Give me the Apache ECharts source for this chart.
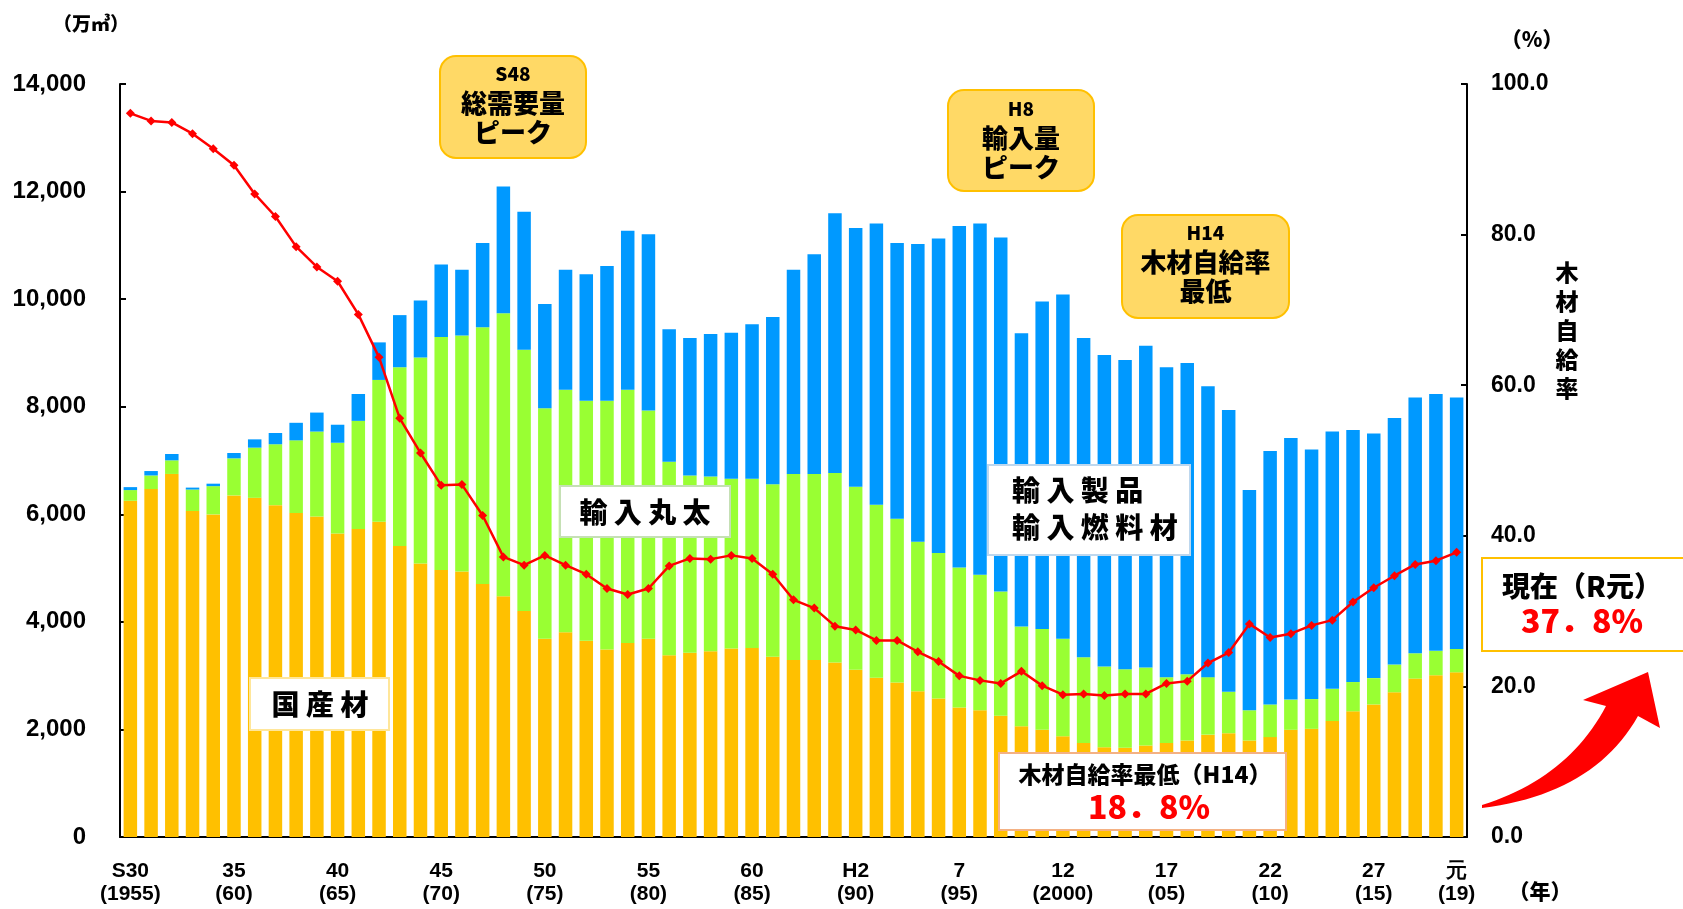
<!DOCTYPE html>
<html>
<head>
<meta charset="utf-8">
<script src="https://cdn.jsdelivr.net/npm/echarts@6/dist/echarts.min.js"></script>
<style>
  html, body { margin: 0; padding: 0; background: #fff; }
  #chart { width: 1683px; height: 909px; }
</style>
</head>
<body>
<div id="chart"></div>
<script>
'use strict';

// 年 (暦年)
const years = [
    1955, 1956, 1957, 1958, 1959, 1960, 1961, 1962, 1963, 1964,
    1965, 1966, 1967, 1968, 1969, 1970, 1971, 1972, 1973, 1974,
    1975, 1976, 1977, 1978, 1979, 1980, 1981, 1982, 1983, 1984,
    1985, 1986, 1987, 1988, 1989, 1990, 1991, 1992, 1993, 1994,
    1995, 1996, 1997, 1998, 1999, 2000, 2001, 2002, 2003, 2004,
    2005, 2006, 2007, 2008, 2009, 2010, 2011, 2012, 2013, 2014,
    2015, 2016, 2017, 2018, 2019
];

// 国産材 (万㎥)
const domestic = [
    6251, 6469, 6750, 6061, 5998, 6351, 6306, 6170, 6025, 5961,
    5644, 5726, 5862, 5409, 5083, 4965, 4938, 4702, 4476, 4204,
    3687, 3805, 3651, 3488, 3606, 3687, 3379, 3425, 3452, 3506,
    3515, 3352, 3289, 3289, 3243, 3108, 2963, 2872, 2709, 2573,
    2410, 2356, 2256, 2057, 1993, 1875, 1749, 1667, 1658, 1703,
    1749, 1794, 1903, 1930, 1794, 1857, 1993, 2011, 2156, 2337,
    2464, 2691, 2945, 3008, 3062
];

// 輸入丸太 (万㎥)
const importLogs = [
    199, 253, 253, 399, 525, 689, 933, 1132, 1350, 1577,
    1686, 2011, 2636, 3325, 3832, 4331, 4385, 4775, 5264, 4856,
    4286, 4512, 4458, 4621, 4711, 4241, 3597, 3298, 3252, 3153,
    3144, 3207, 3461, 3461, 3525, 3406, 3216, 3044, 2781, 2709,
    2600, 2518, 2310, 1857, 1876, 1812, 1594, 1504, 1459, 1450,
    1223, 1232, 1069, 770, 562, 607, 562, 553, 598, 544,
    490, 516, 471, 453, 435
];

// 輸入製品・輸入燃料材 (万㎥)
const importProducts = [
    55, 82, 118, 36, 46, 99, 154, 209, 326, 353,
    335, 499, 698, 969, 1060, 1350, 1223, 1567, 2355, 2564,
    1939, 2229, 2355, 2509, 2954, 3279, 2465, 2554, 2646, 2718,
    2872, 3108, 3796, 4086, 4829, 4811, 5228, 5128, 5536, 5844,
    6351, 6533, 6578, 5454, 6088, 6397, 5934, 5789, 5753, 5979,
    5762, 5789, 5409, 5237, 4095, 4712, 4865, 4639, 4784, 4684,
    4548, 4585, 4756, 4775, 4675
];

// 木材自給率 (%)
const selfSufficiency = [
    96.1, 95.1, 94.9, 93.4, 91.4, 89.2, 85.4, 82.4, 78.4, 75.7,
    73.8, 69.4, 63.7, 55.6, 51.0, 46.7, 46.8, 42.7, 37.2, 36.1,
    37.4, 36.1, 34.9, 33.0, 32.2, 33.0, 36.0, 37.0, 36.9, 37.4,
    37.0, 34.9, 31.5, 30.4, 28.0, 27.5, 26.1, 26.1, 24.6, 23.3,
    21.4, 20.8, 20.4, 22.0, 20.1, 18.9, 19.0, 18.8, 19.0, 19.0,
    20.4, 20.7, 23.1, 24.5, 28.3, 26.5, 27.0, 28.1, 28.8, 31.2,
    33.1, 34.7, 36.2, 36.7, 37.8
];

// x軸に表示する年とラベル
const tickYears  = [1955, 1960, 1965, 1970, 1975, 1980, 1985, 1990, 1995, 2000, 2005, 2010, 2015, 2019];
const tickLabels = ['S30\n(1955)', '35\n(60)', '40\n(65)', '45\n(70)', '50\n(75)', '55\n(80)', '60\n(85)',
                    'H2\n(90)', '7\n(95)', '12\n(2000)', '17\n(05)', '22\n(10)', '27\n(15)', '元\n(19)'];

const JP   = '"Noto Sans CJK JP", sans-serif';
const NUM  = '"Liberation Sans", Arial, sans-serif';
const TOP  = 100;   // 注記は棒・折れ線より手前に描く

function withComma(v) {
    return String(v).replace(/\B(?=(\d{3})+(?!\d))/g, ',');
}

// 角丸の黄色い注記
function yellowNote(x, y, w, h, lines) {
    const els = [{
        type: 'rect', z: TOP,
        shape: {x: x, y: y, width: w, height: h, r: 16},
        style: {fill: '#FFD966', stroke: '#FFC000', lineWidth: 2}
    }];
    lines.forEach(l => els.push({
        type: 'text', z: TOP + 1,
        x: x + w / 2, y: l.y,
        style: {text: l.text, font: `900 ${l.size}px ${JP}`, fill: '#000', align: 'center', verticalAlign: 'middle'}
    }));
    return els;
}

// 白地の系列名ラベル
function whiteLabel(x, y, w, h, stroke, lines) {
    const els = [{
        type: 'rect', z: TOP,
        shape: {x: x, y: y, width: w, height: h},
        style: {fill: '#fff', stroke: stroke, lineWidth: 2}
    }];
    lines.forEach(l => els.push({
        type: 'text', z: TOP + 1,
        x: l.x, y: l.y,
        style: {text: l.text, font: `900 ${l.size}px ${JP}`, fill: l.color || '#000',
                align: l.align || 'center', verticalAlign: 'middle'}
    }));
    return els;
}

// 二次ベジェ曲線を折れ線に展開 (矢印の輪郭用)
function quad(p0, p1, p2, n) {
    const pts = [];
    for (let i = 0; i <= n; i++) {
        const t = i / n, u = 1 - t;
        pts.push([u * u * p0[0] + 2 * u * t * p1[0] + t * t * p2[0],
                  u * u * p0[1] + 2 * u * t * p1[1] + t * t * p2[1]]);
    }
    return pts;
}

function arrowPoints() {
    const outer = quad([1482, 808], [1594, 794], [1638, 716], 24);
    const inner = quad([1606, 706], [1568, 778], [1482, 805], 24);
    return outer.concat([[1660, 728], [1648, 672], [1583, 700]], inner);
}

function buildOption() {
    const graphic = [
        {type: 'text', x: 91, y: 24, z: TOP,
         style: {text: '（万㎥）', font: `900 19px ${JP}`, fill: '#000', align: 'center', verticalAlign: 'middle'}},
        {type: 'text', x: 1532, y: 39, z: TOP,
         style: {text: '（%）', font: `900 21px ${JP}`, fill: '#000', align: 'center', verticalAlign: 'middle'}},
        {type: 'text', x: 1567, y: 330, z: TOP,
         style: {text: '木\n材\n自\n給\n率', font: `900 23px ${JP}`, lineHeight: 29, fill: '#000', align: 'center', verticalAlign: 'middle'}},
        {type: 'text', x: 1540, y: 891, z: TOP,
         style: {text: '（年）', font: `900 21px ${JP}`, fill: '#000', align: 'center', verticalAlign: 'middle'}},
        {type: 'polygon', z: TOP, shape: {points: arrowPoints()}, style: {fill: '#FF0000'}}
    ].concat(
        yellowNote(440, 56, 146, 102, [
            {text: 'S48', size: 19, y: 74}, {text: '総需要量', size: 26, y: 103}, {text: 'ピーク', size: 26, y: 132}]),
        yellowNote(948, 90, 146, 101, [
            {text: 'H8', size: 19, y: 109}, {text: '輸入量', size: 26, y: 138}, {text: 'ピーク', size: 26, y: 167}]),
        yellowNote(1122, 215, 167, 103, [
            {text: 'H14', size: 19, y: 233}, {text: '木材自給率', size: 26, y: 262}, {text: '最低', size: 26, y: 291}]),
        whiteLabel(250, 678, 139, 52, '#FFE699', [
            {text: '国 産 材', size: 28, x: 320, y: 704}]),
        whiteLabel(560, 486, 170, 51, '#C5E0B4', [
            {text: '輸 入 丸 太', size: 28, x: 645, y: 512}]),
        whiteLabel(988, 465, 202, 90, '#BDD7EE', [
            {text: '輸 入 製 品', size: 28, x: 1012, y: 490, align: 'left'},
            {text: '輸 入 燃 料 材', size: 28, x: 1012, y: 527, align: 'left'}]),
        whiteLabel(999, 753, 287, 77, '#F4B183', [
            {text: '木材自給率最低（H14）', size: 23, x: 1145, y: 774},
            {text: '18．8%', size: 32, x: 1149, y: 807, color: '#FF0000'}]),
        whiteLabel(1482, 558, 215, 93, '#FFC000', [
            {text: '現在（R元）', size: 28, x: 1582, y: 586},
            {text: '37．8%', size: 32, x: 1582, y: 621, color: '#FF0000'}])
    );

    return {
        animation: false,
        backgroundColor: '#fff',
        grid: {left: 120, right: 216, top: 84, bottom: 72, containLabel: false},
        xAxis: {
            type: 'category',
            data: years.map(String),
            axisLine: {lineStyle: {color: '#000', width: 2}},
            axisTick: {show: false},
            axisLabel: {
                interval: (idx, val) => tickYears.indexOf(+val) >= 0,
                formatter: val => tickLabels[tickYears.indexOf(+val)],
                margin: 23,
                color: '#000',
                fontFamily: NUM,
                fontWeight: 'bold',
                fontSize: 21,
                lineHeight: 23
            }
        },
        yAxis: [{
            type: 'value',
            min: 0, max: 14000, interval: 2000,
            splitLine: {show: false},
            axisLine: {show: true, lineStyle: {color: '#000', width: 2}},
            axisTick: {show: true, inside: true, length: 6, lineStyle: {color: '#000', width: 2}},
            axisLabel: {formatter: withComma, margin: 34, color: '#000', fontFamily: NUM, fontWeight: 'bold', fontSize: 24}
        }, {
            type: 'value',
            min: 0, max: 100, interval: 20,
            splitLine: {show: false},
            axisLine: {show: true, lineStyle: {color: '#000', width: 2}},
            axisTick: {show: true, inside: true, length: 6, lineStyle: {color: '#000', width: 2}},
            axisLabel: {formatter: v => v.toFixed(1), margin: 24, color: '#000', fontFamily: NUM, fontWeight: 'bold', fontSize: 23}
        }],
        series: [{
            name: '国産材', type: 'bar', stack: 'total', data: domestic,
            barWidth: 13.5, itemStyle: {color: '#FFC000'}
        }, {
            name: '輸入丸太', type: 'bar', stack: 'total', data: importLogs,
            itemStyle: {color: '#99FF33'}
        }, {
            name: '輸入製品・輸入燃料材', type: 'bar', stack: 'total', data: importProducts,
            itemStyle: {color: '#0099FF'}
        }, {
            name: '木材自給率', type: 'line', yAxisIndex: 1, data: selfSufficiency,
            z: 10,
            lineStyle: {color: '#FF0000', width: 2.5},
            itemStyle: {color: '#FF0000'},
            symbol: 'diamond', symbolSize: 9
        }],
        graphic: graphic
    };
}

const chart = echarts.init(document.getElementById('chart'), null, {renderer: 'canvas'});
chart.setOption(buildOption());
</script>
</body>
</html>
